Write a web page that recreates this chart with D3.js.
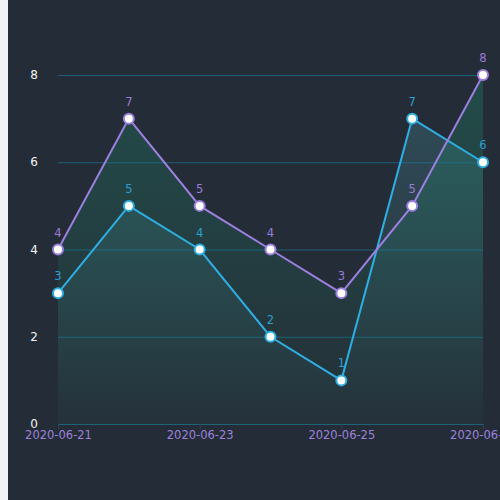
<!DOCTYPE html>
<meta charset="utf-8">
<script src="https://d3js.org/d3.v7.min.js"></script>
<style>
  html, body { margin: 0; padding: 0; background: #f0f2f5; }
  #chart { position: absolute; left: 8px; top: 0; }
</style>
<div id="chart"></div>
<script>
  // data
  const dates = ["2020-06-21", "2020-06-22", "2020-06-23", "2020-06-24", "2020-06-25", "2020-06-26", "2020-06-27"];
  const seriesA = [3, 5, 4, 2, 1, 7, 6];   // cyan
  const seriesB = [4, 7, 5, 4, 3, 5, 8];   // purple
  const yTicks = [0, 2, 4, 6, 8];
  const xTickDates = ["2020-06-21", "2020-06-23", "2020-06-25", "2020-06-27"];

  const W = 492, H = 500;
  const margin = {top: 75, right: 17, bottom: 76, left: 50};

  const svg = d3.select("#chart").append("svg")
      .attr("width", W)
      .attr("height", H)
      .style("display", "block");

  svg.append("rect").attr("width", W).attr("height", H).attr("fill", "#242d37");

  const parse = d3.timeParse("%Y-%m-%d");
  const x = d3.scaleTime()
      .domain([parse(dates[0]), parse(dates[dates.length - 1])])
      .range([margin.left, W - margin.right]);
  const y = d3.scaleLinear()
      .domain([0, 8])
      .range([H - margin.bottom, margin.top]);

  const defs = svg.append("defs");
  function grad(id, color, alpha) {
    const g = defs.append("linearGradient").attr("id", id)
        .attr("x1", 0).attr("y1", 0).attr("x2", 0).attr("y2", 1);
    g.append("stop").attr("offset", "0%").attr("stop-color", color).attr("stop-opacity", alpha);
    g.append("stop").attr("offset", "100%").attr("stop-color", color).attr("stop-opacity", 0.02);
  }
  grad("gradA", "rgb(70,135,150)", 0.33);
  grad("gradB", "rgb(30,150,115)", 0.3);

  const series = [
    {values: seriesA, color: "#2fade2", label: "#2a9fd0", fill: "url(#gradA)"},
    {values: seriesB, color: "#9c7fe0", label: "#9b7ad8", fill: "url(#gradB)"}
  ];

  const area = d3.area()
      .x((d, i) => x(parse(dates[i])))
      .y0(y(0))
      .y1(d => y(d));
  const line = d3.line()
      .x((d, i) => x(parse(dates[i])))
      .y(d => y(d));

  series.forEach(s => {
    svg.append("path").datum(s.values)
      .attr("d", area)
      .attr("fill", s.fill);
  });

  // grid lines (over the areas)
  svg.append("g")
    .selectAll("line")
    .data(yTicks.filter(d => d > 0))
    .join("line")
      .attr("x1", margin.left).attr("x2", W - margin.right)
      .attr("y1", d => y(d) + 0.5).attr("y2", d => y(d) + 0.5)
      .attr("stroke", "rgba(25,125,150,0.65)")
      .attr("stroke-width", 1);

  // x axis
  const xAxis = d3.axisBottom(x)
      .tickValues(xTickDates.map(parse))
      .tickFormat(d3.timeFormat("%Y-%m-%d"))
      .tickSize(5)
      .tickPadding(2);
  const gx = svg.append("g")
      .attr("transform", `translate(0,${y(0)})`)
      .call(xAxis);
  gx.select(".domain").attr("stroke", "rgba(25,125,150,0.7)");
  gx.selectAll(".tick line").attr("stroke", "#33414c");
  gx.selectAll(".tick text")
      .attr("fill", "#9d80dc")
      .style("font-family", "DejaVu Sans, sans-serif")
      .style("font-size", "11.5px");

  // y labels
  svg.append("g")
    .selectAll("text")
    .data(yTicks)
    .join("text")
      .attr("x", 30)
      .attr("y", d => y(d))
      .attr("dy", "0.35em")
      .attr("text-anchor", "end")
      .attr("fill", "#f2f2f2")
      .style("font-family", "DejaVu Sans, sans-serif")
      .style("font-size", "12px")
      .text(d => d);

  series.forEach(s => {
    svg.append("path").datum(s.values)
      .attr("d", line)
      .attr("fill", "none")
      .attr("stroke", s.color)
      .attr("stroke-width", 2);
  });

  series.forEach(s => {
    const g = svg.append("g");
    g.selectAll("circle")
      .data(s.values)
      .join("circle")
        .attr("cx", (d, i) => x(parse(dates[i])))
        .attr("cy", d => y(d))
        .attr("r", 5)
        .attr("fill", "#ffffff")
        .attr("stroke", s.color)
        .attr("stroke-width", 2);
    g.selectAll("text")
      .data(s.values)
      .join("text")
        .attr("x", (d, i) => x(parse(dates[i])))
        .attr("y", d => y(d) - 13)
        .attr("text-anchor", "middle")
        .attr("fill", s.label)
        .style("font-family", "DejaVu Sans, sans-serif")
        .style("font-size", "11.5px")
        .text(d => d);
  });
</script>
